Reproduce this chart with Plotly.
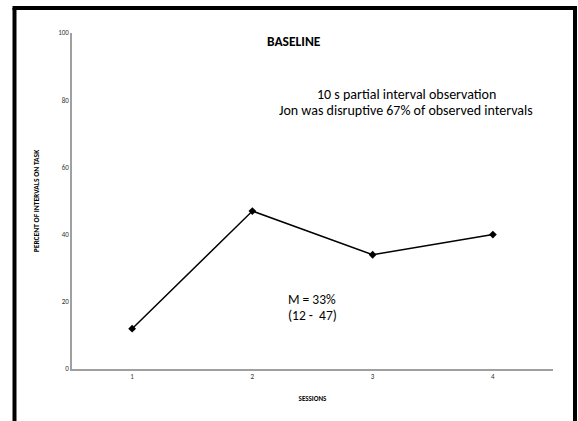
import plotly.graph_objects as go

sessions = [1, 2, 3, 4]
percent_on_task = [12, 47, 34, 40]
y_ticks = [0, 20, 40, 60, 80, 100]

W, H = 578, 421
L, R, T, B = 72, 25, 33, 52
pw, ph = W - L - R, H - T - B

def px(x):
    return (x - L) / pw

def py(y):
    return (H - B - y) / ph

fig = go.Figure()
fig.add_trace(go.Scatter(
    x=sessions, y=percent_on_task, mode="lines+markers",
    line=dict(color="black", width=1.5),
    marker=dict(symbol="diamond", size=6, color="black"),
    showlegend=False,
))

font_main = "Carlito, Lato, 'Liberation Sans', sans-serif"

frame = dict(xref="paper", yref="paper", line=dict(color="#000000", width=4), type="line")
fx0, fx1, fy0, fy1 = px(14.5), px(575), py(440), py(8)

fig.update_layout(
    width=W, height=H,
    margin=dict(l=L, r=R, t=T, b=B),
    plot_bgcolor="white", paper_bgcolor="white",
    font=dict(family=font_main, color="black"),
    xaxis=dict(
        range=[0.5, 4.5], tickvals=sessions, ticktext=[str(s) for s in sessions],
        showgrid=False, zeroline=False, showline=True, linecolor="#a0a0a0", linewidth=1.5,
        ticks="", tickfont=dict(size=7, color="#333333"),
        title=dict(text="<b>SESSIONS</b>", font=dict(size=7), standoff=16),
    ),
    yaxis=dict(
        range=[0, 100], tickvals=y_ticks,
        showgrid=False, zeroline=False, showline=True, linecolor="#a0a0a0", linewidth=1.5,
        ticks="", tickfont=dict(size=7, color="#333333"),
        title=dict(text="<b>PERCENT OF INTERVALS ON TASK</b>", font=dict(size=7.5), standoff=18),
    ),
    shapes=[
        dict(frame, x0=px(12.5), x1=px(577), y0=fy1, y1=fy1),
        dict(frame, x0=fx0, x1=fx0, y0=fy0, y1=fy1),
        dict(frame, x0=fx1, x1=fx1, y0=fy0, y1=fy1),
    ],
    annotations=[
        dict(text="<b>BASELINE</b>", xref="paper", yref="paper", x=px(294), y=py(41),
             showarrow=False, font=dict(size=13.5), xanchor="center", yanchor="middle"),
        dict(text="10 s partial interval observation", xref="paper", yref="paper",
             x=px(406), y=py(94), showarrow=False, font=dict(size=14),
             xanchor="center", yanchor="middle"),
        dict(text="Jon was disruptive 67% of observed intervals", xref="paper", yref="paper",
             x=px(406), y=py(111), showarrow=False, font=dict(size=14),
             xanchor="center", yanchor="middle"),
        dict(text="M = 33%", xref="paper", yref="paper", x=px(286), y=py(299),
             showarrow=False, font=dict(size=13.5), xanchor="left", yanchor="middle"),
        dict(text="(12 -  47)", xref="paper", yref="paper", x=px(286), y=py(315),
             showarrow=False, font=dict(size=13.5), xanchor="left", yanchor="middle"),
    ],
)

fig.write_html(
    "out.html",
    config={"displayModeBar": False},
    post_script="document.body.style.margin='0';document.body.style.overflow='hidden';",
)
